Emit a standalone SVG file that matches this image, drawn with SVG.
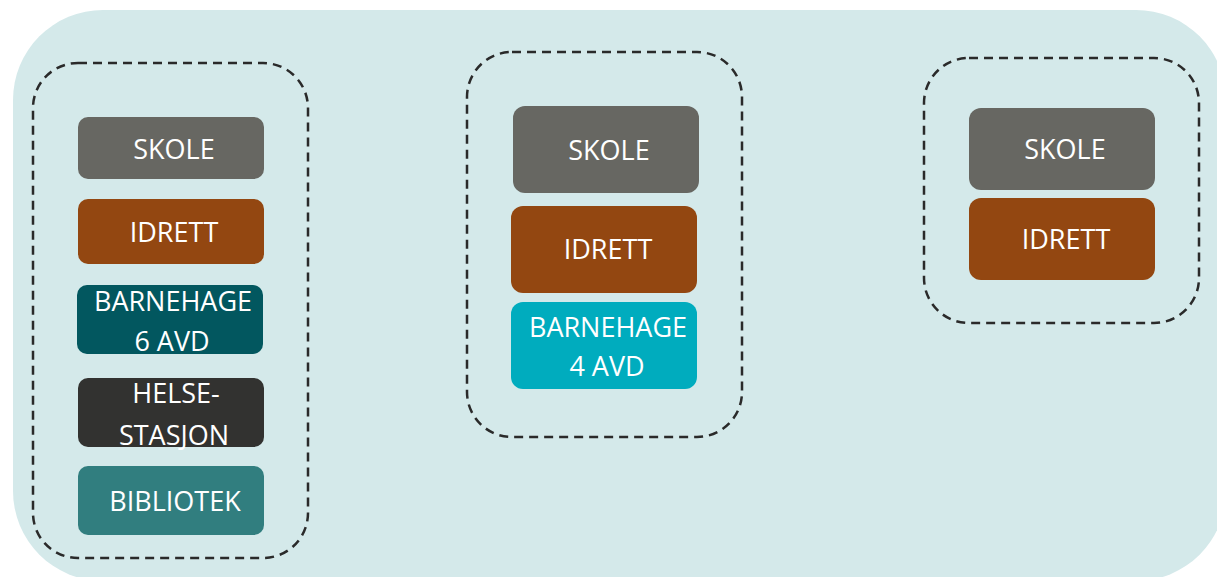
<svg xmlns="http://www.w3.org/2000/svg" width="1217" height="577" viewBox="0 0 1217 577">
  <style>
    .panel { fill: #d4e9ea; }
    .cluster { fill: none; stroke: #2a2a2a; stroke-width: 2.5; stroke-dasharray: 9 6; }
    .box { stroke: none; }
    .skole { fill: #676762; }
    .idrett { fill: #934711; }
    .bhg6 { fill: #02575f; }
    .helse { fill: #323230; }
    .bibl { fill: #317e7f; }
    .bhg4 { fill: #00acbe; }
    .label { font-family: "Open Sans", "Noto Sans", "Liberation Sans", sans-serif; font-size: 27px; fill: #ffffff; text-anchor: middle; }
  </style>

  <!-- background panel -->
  <rect class="panel" x="13" y="10" width="1213" height="571" rx="90" ry="90"/>

  <!-- dashed clusters -->
  <g id="clusters">
    <rect id="cluster-1" class="cluster" x="33" y="63" width="275" height="495" rx="45" ry="45"/>
    <rect id="cluster-2" class="cluster" x="467" y="52" width="275" height="385" rx="45" ry="45"/>
    <rect id="cluster-3" class="cluster" x="924" y="58" width="275" height="265" rx="45" ry="45"/>
  </g>

  <!-- cluster 1 -->
  <g id="skole-1">
    <rect class="box skole" x="78" y="117" width="186" height="62" rx="10"/>
    <text class="label" x="174" y="159">SKOLE</text>
  </g>
  <g id="idrett-1">
    <rect class="box idrett" x="78" y="199" width="186" height="65" rx="10"/>
    <text class="label" x="174" y="242">IDRETT</text>
  </g>
  <g id="barnehage-6">
    <rect class="box bhg6" x="77" y="285" width="186" height="69" rx="10"/>
    <text class="label" x="173" y="311">BARNEHAGE</text>
    <text class="label" x="172" y="351">6 AVD</text>
  </g>
  <g id="helsestasjon">
    <rect class="box helse" x="78" y="378" width="186" height="69" rx="10"/>
    <text class="label" x="176" y="403">HELSE-</text>
    <text class="label" x="174" y="445">STASJON</text>
  </g>
  <g id="bibliotek">
    <rect class="box bibl" x="78" y="466" width="186" height="69" rx="10"/>
    <text class="label" x="175" y="511">BIBLIOTEK</text>
  </g>

  <!-- cluster 2 -->
  <g id="skole-2">
    <rect class="box skole" x="513" y="106" width="186" height="87" rx="12"/>
    <text class="label" x="609" y="160">SKOLE</text>
  </g>
  <g id="idrett-2">
    <rect class="box idrett" x="511" y="206" width="186" height="87" rx="12"/>
    <text class="label" x="608" y="259">IDRETT</text>
  </g>
  <g id="barnehage-4">
    <rect class="box bhg4" x="511" y="302" width="186" height="87" rx="12"/>
    <text class="label" x="608" y="337">BARNEHAGE</text>
    <text class="label" x="607" y="376">4 AVD</text>
  </g>

  <!-- cluster 3 -->
  <g id="skole-3">
    <rect class="box skole" x="969" y="108" width="186" height="82" rx="12"/>
    <text class="label" x="1065" y="159">SKOLE</text>
  </g>
  <g id="idrett-3">
    <rect class="box idrett" x="969" y="198" width="186" height="82" rx="12"/>
    <text class="label" x="1066" y="249">IDRETT</text>
  </g>

  <!-- no connectors in this layout -->
  <g id="connectors"/>
</svg>
